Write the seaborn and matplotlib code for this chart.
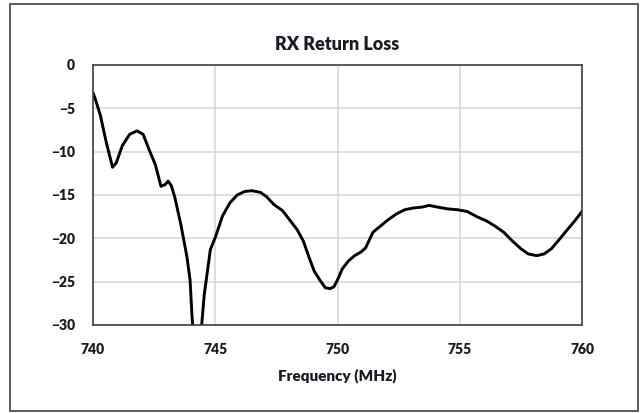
import matplotlib
matplotlib.use("Agg")
import matplotlib.pyplot as plt
import seaborn as sns
import numpy as np
import pandas as pd
from matplotlib.patches import Rectangle
from matplotlib.ticker import MultipleLocator

# ---- data ----
freq_mhz = [740.0, 740.08, 740.3, 740.55, 740.8, 740.95, 741.2, 741.5, 741.8, 742.05,
            742.3, 742.55, 742.78, 742.95, 743.07, 743.2, 743.35, 743.6, 743.84, 743.97,
            744.05, 744.15, 744.25, 744.35, 744.46, 744.55, 744.8, 745.0, 745.3, 745.6,
            745.9, 746.2, 746.5, 746.85, 747.1, 747.4, 747.75, 748.05, 748.35, 748.6,
            748.85, 749.05, 749.3, 749.5, 749.7, 749.85, 750.0, 750.2, 750.45, 750.7,
            750.95, 751.15, 751.45, 751.75, 752.05, 752.4, 752.75, 753.1, 753.45, 753.75,
            754.1, 754.5, 754.9, 755.3, 755.7, 756.1, 756.45, 756.8, 757.15, 757.5,
            757.8, 758.15, 758.45, 758.75, 759.05, 759.4, 759.7, 760.0]
return_loss_db = [-3.2, -3.8, -5.8, -9.0, -11.8, -11.3, -9.3, -8.0, -7.6, -8.0,
                  -9.8, -11.5, -14.0, -13.8, -13.4, -13.9, -15.3, -18.5, -22.1, -24.8,
                  -29.0, -33.0, -36.0, -33.0, -29.5, -26.5, -21.3, -19.9, -17.4, -15.9,
                  -15.0, -14.6, -14.5, -14.7, -15.2, -16.1, -16.8, -17.9, -19.0, -20.3,
                  -22.3, -23.8, -24.9, -25.7, -25.8, -25.6, -24.8, -23.5, -22.6, -22.0,
                  -21.6, -21.1, -19.3, -18.6, -17.9, -17.2, -16.7, -16.5, -16.4, -16.2,
                  -16.4, -16.6, -16.7, -16.9, -17.5, -18.0, -18.6, -19.3, -20.3, -21.2,
                  -21.8, -22.0, -21.8, -21.2, -20.2, -19.0, -18.0, -16.9]
x_ticks = [740, 745, 750, 755, 760]
y_ticks = [0, -5, -10, -15, -20, -25, -30]
title = "RX Return Loss"
x_label = "Frequency (MHz)"

df = pd.DataFrame({"freq": freq_mhz, "rl": return_loss_db})

sns.set_style("white")
plt.rcParams['font.family'] = ['Lato', 'DejaVu Sans']

fig = plt.figure(figsize=(6.41, 4.13), dpi=100)
ax = fig.add_axes([93/641, 1-325/413, (582-93)/641, (325-65)/413])

sns.lineplot(data=df, x="freq", y="rl", ax=ax, color="black", linewidth=2.1,
             estimator=None, sort=False)

ax.set_xlim(740, 760)
ax.set_ylim(-30, 0)
ax.set_xticks(x_ticks)
ax.set_yticks(y_ticks)
ax.xaxis.set_minor_locator(MultipleLocator(1))
ax.grid(True, which="major", color="#d4d4d4", linewidth=1.1)
ax.set_axisbelow(True)

txt_color = "#1a1a24"
ax.tick_params(axis="x", which="both", direction="in", length=5, width=1,
               color="#404040", labelsize=10, pad=13, labelcolor=txt_color)
ax.tick_params(axis="y", which="both", length=0, labelsize=10, pad=13,
               labelcolor=txt_color)
for lab in ax.get_xticklabels() + ax.get_yticklabels():
    lab.set_fontweight("heavy")

for s in ax.spines.values():
    s.set_color("#404040")
    s.set_linewidth(1.2)

ax.set_xlabel("")
ax.set_ylabel("")
fig.text(337/641, 1-45/413, title, ha="center", va="center", fontsize=13,
         fontweight="heavy", color=txt_color)
fig.text(337/641, 1-376/413, x_label, ha="center", va="center", fontsize=11,
         fontweight="heavy", color=txt_color)

fig.add_artist(Rectangle((10/641, 2/413), 628/641, 407/413, transform=fig.transFigure,
                         fill=False, edgecolor="#404040", linewidth=1.2))

fig.savefig("out.png", dpi=100, facecolor="white")
